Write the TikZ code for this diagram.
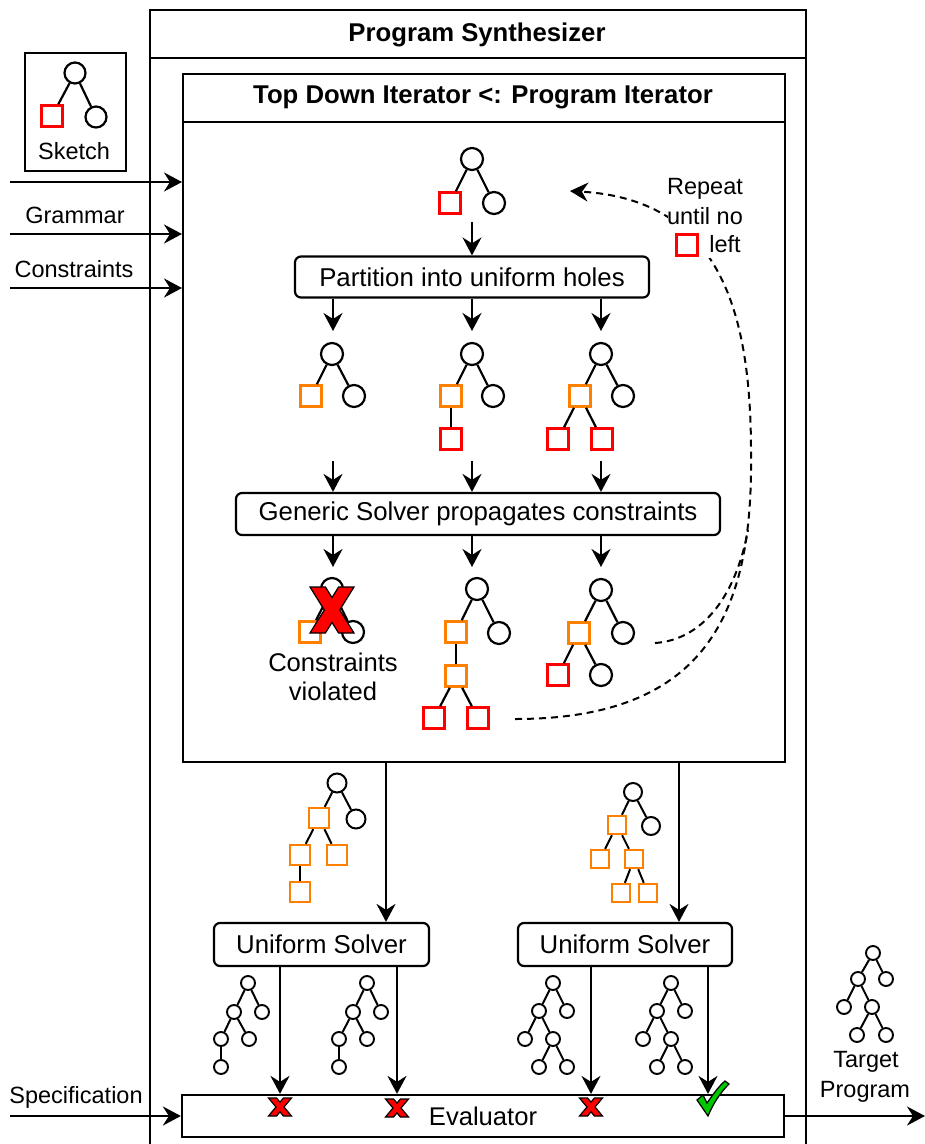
\documentclass[tikz,border=0pt]{standalone}
\usepackage{fontspec}
\setmainfont{Liberation Sans}
\usetikzlibrary{arrows.meta,calc}
\definecolor{holeorange}{HTML}{FF8000}
\definecolor{holered}{HTML}{FF0000}
\definecolor{okgreen}{HTML}{00C800}

\tikzset{
  frame/.style={draw, line width=2.2pt, inner sep=0pt, anchor=north west},
  stepbox/.style={draw, line width=2.2pt, rounded corners=6pt, inner sep=0pt, font=\fontsize{25.8}{30}\selectfont},
  lbl/.style={inner sep=0pt, font=\fontsize{23.5}{28}\selectfont},
  blbl/.style={inner sep=0pt, font=\fontsize{25.8}{30}\selectfont},
  ttl/.style={inner sep=0pt, font=\fontsize{25.7}{30}\selectfont\bfseries},
  arr/.style={line width=2.2pt, -{Stealth[length=18pt,width=19pt,inset=6pt]}},
  dsh/.style={line width=2pt, dash pattern=on 7pt off 5pt},
  edge/.style={line width=2.2pt},
  sedge/.style={line width=2pt},
  nd/.style={circle, draw, line width=2.2pt, fill=white, inner sep=0pt, minimum size=22pt},
  hr/.style={rectangle, draw=holered, line width=2.6pt, inner sep=0pt, minimum size=21pt},
  ho/.style={rectangle, draw=holeorange, line width=2.6pt, inner sep=0pt, minimum size=21pt},
  snd/.style={nd, minimum size=18pt, line width=2pt},
  sho/.style={ho, minimum size=19pt, line width=2.4pt},
  tnd/.style={nd, minimum size=14pt, line width=1.9pt},
  xmark/.pic={\filldraw[fill=holered, draw=black, line width=1.2pt, line join=miter]
     (-1,1) -- (-0.3,1) -- (0,0.54) -- (0.3,1) -- (1,1) -- (0.35,0) -- (1,-1) -- (0.3,-1)
     -- (0,-0.54) -- (-0.3,-1) -- (-1,-1) -- (-0.35,0) -- cycle;},
  tick/.pic={\filldraw[fill=okgreen, draw=black, line width=1.2pt]
     (-15,1) -- (-9,-4) -- (-5,4) .. controls (2,-6) and (7,-13) .. (13,-18) -- (17,-15)
     .. controls (8,-6) and (1,5) .. (-4,17) -- cycle;},
}

\begin{document}
\begin{tikzpicture}[x=1pt,y=-1pt]
\clip (0,0) rectangle (925,1144);
\fill[white] (0,0) rectangle (925,1144);

% ---------- frames ----------
\node[frame, minimum width=656pt, minimum height=1170pt] (synth) at (149,9) {};
\node[ttl] (synthT) at (477,35) {Program Synthesizer};
\draw[edge] (synth.west |- 0,58) -- (synth.east |- 0,58);

\node[frame, minimum width=602pt, minimum height=688pt] (inner) at (182,73) {};
\node[ttl] (innerT) at (483,97) {Top Down Iterator <: Program Iterator};
\draw[edge] (inner.west |- 0,122) -- (inner.east |- 0,122);

\node[frame, minimum width=101pt, minimum height=118pt] (sk) at (24,52) {};

% ---------- sketch tree ----------
\node[nd, minimum size=21pt] (skR) at (75,73) {};
\node[hr] (skH) at (52,116) {};
\node[nd, minimum size=21pt] (skC) at (96,117) {};
\draw[edge] (skR) -- (skH);
\draw[edge] (skR) -- (skC);
\node[lbl] (skL) at (74,151) {Sketch};

% ---------- inputs ----------
\coordinate (inS) at (10,182);
\coordinate (inG) at (10,234);
\coordinate (inC) at (10,288);
\draw[arr] (inS) -- (inS -| inner.west);
\draw[arr] (inG) -- (inG -| inner.west);
\draw[arr] (inC) -- (inC -| inner.west);
\node[lbl] (gL) at (75,215) {Grammar};
\node[lbl] (cL) at (74,269) {Constraints};

% ---------- top tree ----------
\node[nd] (t0R) at (472,159) {};
\node[hr] (t0H) at (450,203) {};
\node[nd] (t0C) at (494,203) {};
\draw[edge] (t0R) -- (t0H);
\draw[edge] (t0R) -- (t0C);

\node[stepbox, minimum width=354pt, minimum height=41pt] (part) at (472,277) {Partition into uniform holes};
\coordinate (a0) at (472,222);
\draw[arr] (a0) -- (part.north -| a0);

% ---------- partitioned trees ----------
\node[nd] (p1R) at (332,354) {};
\node[ho] (p1H) at (311,396) {};
\node[nd] (p1C) at (354,396) {};
\draw[edge] (p1R) -- (p1H);
\draw[edge] (p1R) -- (p1C);

\node[nd] (p2R) at (472,354) {};
\node[ho] (p2H) at (451,396) {};
\node[nd] (p2C) at (493,396) {};
\node[hr] (p2K) at (451,439) {};
\draw[edge] (p2R) -- (p2H);
\draw[edge] (p2R) -- (p2C);
\draw[edge] (p2H) -- (p2K);

\node[nd] (p3R) at (601,354) {};
\node[ho] (p3H) at (580,396) {};
\node[nd] (p3C) at (623,396) {};
\node[hr] (p3K) at (558,439) {};
\node[hr] (p3L) at (602,439) {};
\draw[edge] (p3R) -- (p3H);
\draw[edge] (p3R) -- (p3C);
\draw[edge] (p3H) -- (p3K);
\draw[edge] (p3H) -- (p3L);

\coordinate (q1) at (333,331);
\coordinate (q2) at (472,331);
\coordinate (q3) at (601,331);
\draw[arr] (part.south -| q1) -- (q1);
\draw[arr] (part.south -| q2) -- (q2);
\draw[arr] (part.south -| q3) -- (q3);

\node[stepbox, minimum width=484pt, minimum height=42pt] (gen) at (478,514) {Generic Solver propagates constraints};
\coordinate (g1) at (333,461);
\coordinate (g2) at (472,461);
\coordinate (g3) at (601,461);
\draw[arr] (g1) -- (gen.north -| g1);
\draw[arr] (g2) -- (gen.north -| g2);
\draw[arr] (g3) -- (gen.north -| g3);

\coordinate (s1) at (333,567);
\coordinate (s2) at (472,567);
\coordinate (s3) at (601,567);
\draw[arr] (gen.south -| s1) -- (s1);
\draw[arr] (gen.south -| s2) -- (s2);
\draw[arr] (gen.south -| s3) -- (s3);

% ---------- propagated trees ----------
\node[nd] (r1R) at (332,589) {};
\node[ho] (r1H) at (310,632) {};
\node[nd] (r1C) at (353,632) {};
\draw[edge] (r1R) -- (r1H);
\draw[edge] (r1R) -- (r1C);
\pic[xscale=22, yscale=23] (bigX) at (332,610) {xmark};
\node[blbl, align=center, font=\fontsize{25.6}{29}\selectfont] (viol) at (333,677) {Constraints\\violated};

\node[nd] (r2R) at (477,589) {};
\node[ho] (r2H) at (456,632) {};
\node[nd] (r2C) at (499,633) {};
\node[ho] (r2K) at (456,676) {};
\node[hr] (r2L) at (434,718) {};
\node[hr] (r2M) at (478,718) {};
\draw[edge] (r2R) -- (r2H);
\draw[edge] (r2R) -- (r2C);
\draw[edge] (r2H) -- (r2K);
\draw[edge] (r2K) -- (r2L);
\draw[edge] (r2K) -- (r2M);

\node[nd] (r3R) at (601,590) {};
\node[ho] (r3H) at (579,633) {};
\node[nd] (r3C) at (623,633) {};
\node[hr] (r3K) at (558,675) {};
\node[nd] (r3L) at (601,675) {};
\draw[edge] (r3R) -- (r3H);
\draw[edge] (r3R) -- (r3C);
\draw[edge] (r3H) -- (r3K);
\draw[edge] (r3H) -- (r3L);

% ---------- repeat loop ----------
\coordinate (lpA) at (515,719);
\coordinate (lpB) at (655,643);
\coordinate (lpE) at (570,191);
\draw[dsh, -{Stealth[length=18pt,width=19pt,inset=6pt]}] (lpA)
   .. controls (700,719) and (752,620) .. (751,461)
   .. controls (752,320) and (725,200) .. (lpE);
\draw[dsh] (lpB) .. controls (700,640) and (735,600) .. (748,530);
\fill[white] (668,176) rectangle (745,258);
\node[lbl] (rp1) at (705,189) {Repeat};
\node[lbl] (rp2) at (705,216) {until no};
\node[hr, minimum size=21pt] (rpH) at (687,245) {};
\node[lbl] (rp3) at (725,244) {left};

% ---------- uniform solvers ----------
\node[stepbox, minimum width=215pt, minimum height=43pt] (u1) at (321.5,944.5) {Uniform Solver};
\node[stepbox, minimum width=214pt, minimum height=43pt] (u2) at (625,944.5) {Uniform Solver};
\coordinate (d1) at (386,800);
\coordinate (d2) at (679,800);
\draw[arr] (inner.south -| d1) -- (u1.north -| d1);
\draw[arr] (inner.south -| d2) -- (u2.north -| d2);

% handed-over tree, left
\node[snd, minimum size=19pt] (m1R) at (337,783) {};
\node[sho, minimum size=20pt] (m1A) at (319,818) {};
\node[snd, minimum size=19pt] (m1C) at (356,819) {};
\node[sho, minimum size=20pt] (m1B) at (300,855) {};
\node[sho, minimum size=20pt] (m1D) at (337,855) {};
\node[sho, minimum size=20pt] (m1E) at (300,892) {};
\draw[sedge] (m1R) -- (m1A);
\draw[sedge] (m1R) -- (m1C);
\draw[sedge] (m1A) -- (m1B);
\draw[sedge] (m1A) -- (m1D);
\draw[sedge] (m1B) -- (m1E);

% handed-over tree, right
\node[snd] (m2R) at (633,792) {};
\node[sho, minimum size=18pt] (m2A) at (617,825) {};
\node[snd] (m2C) at (651,826) {};
\node[sho, minimum size=18pt] (m2B) at (600,859) {};
\node[sho, minimum size=18pt] (m2D) at (634,859) {};
\node[sho, minimum size=18pt] (m2E) at (621,893) {};
\node[sho, minimum size=18pt] (m2F) at (648,893) {};
\draw[sedge] (m2R) -- (m2A);
\draw[sedge] (m2R) -- (m2C);
\draw[sedge] (m2A) -- (m2B);
\draw[sedge] (m2A) -- (m2D);
\draw[sedge] (m2D) -- (m2E);
\draw[sedge] (m2D) -- (m2F);

% ---------- concrete programs ----------
\node[tnd] (aR) at (248,983) {};
\node[tnd] (a1) at (234,1012) {};
\node[tnd] (a2) at (262,1012) {};
\node[tnd] (a3) at (221,1039) {};
\node[tnd] (a4) at (249,1039) {};
\node[tnd] (a5) at (221,1067) {};
\draw[sedge] (aR) -- (a1); \draw[sedge] (aR) -- (a2);
\draw[sedge] (a1) -- (a3); \draw[sedge] (a1) -- (a4);
\draw[sedge] (a3) -- (a5);

\node[tnd] (bR) at (367,983) {};
\node[tnd] (b1) at (353,1012) {};
\node[tnd] (b2) at (381,1012) {};
\node[tnd] (b3) at (339,1039) {};
\node[tnd] (b4) at (367,1039) {};
\node[tnd] (b5) at (339,1067) {};
\draw[sedge] (bR) -- (b1); \draw[sedge] (bR) -- (b2);
\draw[sedge] (b1) -- (b3); \draw[sedge] (b1) -- (b4);
\draw[sedge] (b3) -- (b5);

\node[tnd] (cR) at (553,983) {};
\node[tnd] (c1) at (539,1011) {};
\node[tnd] (c2) at (567,1011) {};
\node[tnd] (c3) at (525,1039) {};
\node[tnd] (c4) at (553,1039) {};
\node[tnd] (c5) at (539,1067) {};
\node[tnd] (c6) at (567,1067) {};
\draw[sedge] (cR) -- (c1); \draw[sedge] (cR) -- (c2);
\draw[sedge] (c1) -- (c3); \draw[sedge] (c1) -- (c4);
\draw[sedge] (c4) -- (c5); \draw[sedge] (c4) -- (c6);

\node[tnd] (dR) at (671,983) {};
\node[tnd] (dd1) at (657,1011) {};
\node[tnd] (dd2) at (685,1011) {};
\node[tnd] (dd3) at (643,1039) {};
\node[tnd] (dd4) at (671,1039) {};
\node[tnd] (dd5) at (657,1067) {};
\node[tnd] (dd6) at (685,1067) {};
\draw[sedge] (dR) -- (dd1); \draw[sedge] (dR) -- (dd2);
\draw[sedge] (dd1) -- (dd3); \draw[sedge] (dd1) -- (dd4);
\draw[sedge] (dd4) -- (dd5); \draw[sedge] (dd4) -- (dd6);

% ---------- evaluator ----------
\node[draw, line width=2.2pt, inner sep=0pt, minimum width=602pt, minimum height=42pt,
      font=\fontsize{25.6}{30}\selectfont] (ev) at (483,1116) {Evaluator};
\coordinate (e1) at (280,1000);
\coordinate (e2) at (397,1000);
\coordinate (e3) at (591,1000);
\coordinate (e4) at (708,1000);
\draw[arr] (u1.south -| e1) -- (ev.north -| e1);
\draw[arr] (u1.south -| e2) -- (ev.north -| e2);
\draw[arr] (u2.south -| e3) -- (ev.north -| e3);
\draw[arr] (u2.south -| e4) -- (ev.north -| e4);
\pic[xscale=11.5, yscale=9] (x1) at (280,1107) {xmark};
\pic[xscale=11.5, yscale=9] (x2) at (397,1108) {xmark};
\pic[xscale=11.5, yscale=9] (x3) at (591,1107) {xmark};
\pic (ok) at (712,1099) {tick};

\coordinate (spec) at (10,1116);
\draw[arr] (spec) -- (spec -| ev.west);
\node[lbl] (specL) at (76,1097) {Specification};

\coordinate (outT) at (925,1116);
\draw[arr] (ev.east) -- (outT);

% ---------- target program ----------
\node[tnd] (tR) at (873,953) {};
\node[tnd] (tt1) at (858,979) {};
\node[tnd] (tt2) at (886,979) {};
\node[tnd] (tt3) at (844,1007) {};
\node[tnd] (tt4) at (872,1007) {};
\node[tnd] (tt5) at (857,1035) {};
\node[tnd] (tt6) at (886,1035) {};
\draw[sedge] (tR) -- (tt1); \draw[sedge] (tR) -- (tt2);
\draw[sedge] (tt1) -- (tt3); \draw[sedge] (tt1) -- (tt4);
\draw[sedge] (tt4) -- (tt5); \draw[sedge] (tt4) -- (tt6);
\node[lbl] (tgt1) at (866,1062) {Target};
\node[lbl] (tgt2) at (865,1092) {Program};

\end{tikzpicture}
\end{document}
